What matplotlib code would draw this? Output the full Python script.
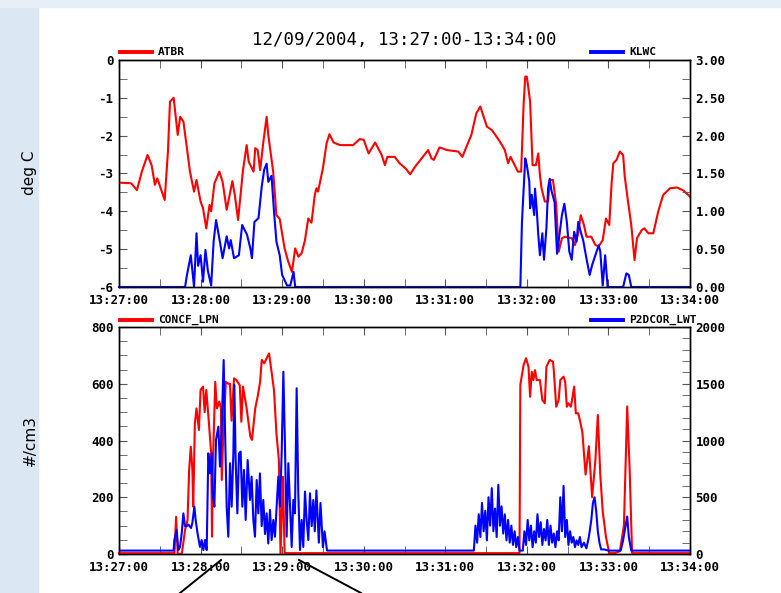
import matplotlib
matplotlib.use("Agg")
import matplotlib.pyplot as plt
from matplotlib.lines import Line2D
from matplotlib.patches import Rectangle
from matplotlib.ticker import MultipleLocator, FixedLocator, FixedFormatter

# ---------------- data (minutes after 13:27:00) ----------------
title = "12/09/2004, 13:27:00-13:34:00"
time_labels = ["13:27:00", "13:28:00", "13:29:00", "13:30:00", "13:31:00", "13:32:00", "13:33:00", "13:34:00"]

atbr_t = [0, 0.15, 0.22, 0.28, 0.35, 0.40, 0.44, 0.47, 0.56, 0.60, 0.625, 0.67, 0.72, 0.75, 0.79, 0.83,
          0.87, 0.92, 0.95, 1.0, 1.03, 1.07, 1.11, 1.13, 1.17, 1.23, 1.27, 1.32, 1.39, 1.42, 1.46, 1.52,
          1.565, 1.59, 1.65, 1.67, 1.70, 1.73, 1.77, 1.81, 1.83, 1.89, 1.93, 1.97, 2.03, 2.075, 2.12, 2.16,
          2.20, 2.24, 2.28, 2.32, 2.36, 2.40, 2.42, 2.44, 2.50, 2.545, 2.58, 2.63, 2.71, 2.87, 2.95, 3.0,
          3.06, 3.14, 3.22, 3.26, 3.29, 3.38, 3.44, 3.51, 3.57, 3.63, 3.79, 3.83, 3.86, 3.93, 4.02, 4.16,
          4.21, 4.26, 4.32, 4.38, 4.43, 4.47, 4.51, 4.57, 4.63, 4.67, 4.73, 4.77, 4.80, 4.85, 4.89, 4.93,
          4.96, 4.98, 5.0, 5.04, 5.07, 5.11, 5.14, 5.16, 5.18, 5.22, 5.26, 5.28, 5.32, 5.36, 5.39, 5.43,
          5.47, 5.55, 5.59, 5.63, 5.66, 5.70, 5.73, 5.79, 5.84, 5.88, 5.93, 5.97, 6.01, 6.04, 6.06, 6.10,
          6.14, 6.18, 6.20, 6.24, 6.28, 6.32, 6.35, 6.41, 6.44, 6.49, 6.55, 6.61, 6.67, 6.755, 6.84, 6.92, 7.0]
atbr_v = [-3.24, -3.26, -3.44, -2.95, -2.51, -2.78, -3.3, -3.13, -3.70, -2.42, -1.10, -1.0, -1.98, -1.5, -1.63, -2.29,
          -2.95, -3.48, -3.17, -3.74, -3.92, -4.45, -3.83, -4.0, -3.26, -2.95, -3.22, -3.96, -3.2, -3.57, -4.23, -2.91,
          -2.25, -2.69, -2.95, -2.33, -2.38, -2.91, -2.16, -1.50, -1.98, -2.95, -4.1, -4.2, -4.98, -5.33, -5.6, -4.98,
          -5.2, -5.1, -4.76, -4.19, -4.3, -3.57, -3.39, -3.48, -2.86, -2.20, -1.96, -2.18, -2.25, -2.25, -2.09, -2.11,
          -2.47, -2.18, -2.51, -2.78, -2.56, -2.56, -2.73, -2.86, -3.02, -2.82, -2.38, -2.6, -2.64, -2.31, -2.38, -2.42,
          -2.56, -2.29, -1.98, -1.41, -1.23, -1.5, -1.76, -1.85, -2.03, -2.16, -2.38, -2.73, -2.56, -2.78, -2.95, -2.95,
          -1.19, -0.44, -0.44, -1.10, -2.78, -2.78, -2.47, -3.04, -3.39, -3.74, -3.74, -3.17, -3.17, -3.83, -5.07, -4.71,
          -4.67, -4.71, -4.89, -4.58, -4.10, -4.36, -4.67, -4.67, -4.89, -4.93, -4.76, -4.19, -4.36, -3.22, -2.73, -2.64,
          -2.42, -2.51, -3.08, -3.74, -4.36, -5.29, -4.71, -4.49, -4.45, -4.58, -4.58, -4.01, -3.57, -3.39, -3.37, -3.45, -3.61]

klwc_t = [0, 0.81, 0.83, 0.88, 0.92, 0.95, 0.97, 1.0, 1.03, 1.06, 1.09, 1.13, 1.16, 1.19, 1.24, 1.27, 1.32, 1.35,
          1.37, 1.41, 1.47, 1.51, 1.57, 1.61, 1.63, 1.66, 1.71, 1.75, 1.78, 1.81, 1.83, 1.87, 1.90, 1.93, 1.97, 2.0,
          2.06, 2.10, 2.14, 2.16, 4.92, 4.94, 4.98, 5.0, 5.03, 5.04, 5.06, 5.09, 5.10, 5.12, 5.14, 5.16, 5.19, 5.21,
          5.24, 5.26, 5.28, 5.30, 5.34, 5.37, 5.40, 5.43, 5.46, 5.49, 5.52, 5.55, 5.58, 5.61, 5.63, 5.66, 5.69, 5.73,
          5.77, 5.80, 5.84, 5.88, 5.90, 5.93, 5.96, 5.99, 6.18, 6.22, 6.25, 6.28, 7.0]
klwc_v = [0, 0, 0.14, 0.42, 0, 0.71, 0.28, 0.42, 0.07, 0.49, 0.21, 0.02, 0.6, 0.885, 0.58, 0.38, 0.67, 0.51,
          0.62, 0.38, 0.42, 0.82, 0.69, 0.51, 0.38, 0.86, 0.91, 1.33, 1.55, 1.63, 1.39, 1.47, 1.0, 0.6, 0.42, 0.16,
          0.02, 0.02, 0.20, 0, 0, 0.86, 1.70, 1.61, 1.39, 1.04, 1.22, 0.95, 1.30, 1.04, 0.69, 0.42, 0.71, 0.36,
          0.78, 1.30, 1.43, 1.28, 1.12, 0.44, 0.69, 0.95, 1.1, 0.86, 0.47, 0.36, 0.73, 0.60, 0.86, 0.73, 0.62, 0.38,
          0.16, 0.29, 0.42, 0.55, 0.47, 0.02, 0.42, 0, 0, 0.18, 0.16, 0, 0]

concf_t = [0, 0.68, 0.70, 0.72, 0.77, 0.81, 0.84, 0.86, 0.88, 0.90, 0.91, 0.93, 0.95, 0.98, 1.0, 1.03, 1.05,
           1.07, 1.10, 1.13, 1.14, 1.15, 1.18, 1.20, 1.23, 1.25, 1.26, 1.28, 1.31, 1.34, 1.36, 1.38, 1.41, 1.44,
           1.48, 1.50, 1.52, 1.565, 1.61, 1.63, 1.67, 1.70, 1.73, 1.75, 1.78, 1.81, 1.84, 1.87, 1.90, 1.93, 1.96,
           1.98, 2.01, 2.03, 4.91, 4.92, 4.96, 4.99, 5.02, 5.04, 5.06, 5.08, 5.10, 5.12, 5.16, 5.19, 5.22, 5.24,
           5.28, 5.32, 5.33, 5.36, 5.39, 5.41, 5.45, 5.47, 5.49, 5.51, 5.54, 5.56, 5.58, 5.60, 5.63, 5.65, 5.68,
           5.72, 5.76, 5.80, 5.84, 5.87, 5.90, 5.93, 5.97, 6.01, 6.08, 6.14, 6.19, 6.23, 6.26, 6.29, 7.0]
concf_v = [3, 3, 131, 0, 0, 85, 120, 296, 378, 296, 167, 460, 513, 437, 578, 590, 500,
           578, 470, 355, 61, 308, 607, 513, 537, 513, 261, 437, 607, 600, 600, 470, 619, 613,
           595, 466, 590, 513, 414, 402, 513, 555, 607, 684, 672, 690, 707, 643, 578, 425, 331,
           0, 272, 3, 3, 596, 666, 690, 660, 554, 642, 613, 648, 613, 613, 543, 531, 660,
           684, 678, 648, 519, 543, 613, 625, 607, 519, 531, 519, 554, 590, 496, 496, 472, 430,
           280, 380, 200, 330, 490, 280, 150, 60, 3, 3, 10, 100, 520, 300, 3, 3]

p2d_t = [0, 0.67, 0.678, 0.707, 0.727, 0.748, 0.768, 0.789, 0.809, 0.830, 0.850, 0.883, 0.899, 0.924, 0.940, 0.964,
         0.993, 1.013, 1.034, 1.054, 1.075, 1.095, 1.116, 1.136, 1.148, 1.169, 1.189, 1.218, 1.238, 1.258, 1.283,
         1.299, 1.320, 1.340, 1.361, 1.381, 1.402, 1.414, 1.430, 1.451, 1.471, 1.491, 1.512, 1.532, 1.553, 1.577,
         1.606, 1.626, 1.647, 1.667, 1.688, 1.708, 1.728, 1.749, 1.769, 1.790, 1.810, 1.830, 1.851, 1.871, 1.892,
         1.912, 1.933, 1.953, 1.974, 1.994, 2.015, 2.035, 2.055, 2.076, 2.096, 2.117, 2.137, 2.157, 2.178, 2.198,
         2.219, 2.239, 2.259, 2.280, 2.300, 2.321, 2.341, 2.362, 2.382, 2.40, 2.42, 2.45, 2.47, 2.50, 2.52, 2.55,
         4.35, 4.37, 4.39, 4.41, 4.43, 4.45, 4.47, 4.49, 4.51, 4.53, 4.55, 4.57, 4.59, 4.61, 4.63, 4.65, 4.67,
         4.69, 4.71, 4.73, 4.75, 4.77, 4.79, 4.81, 4.83, 4.85, 4.87, 4.89, 4.91, 4.95, 4.97, 4.99, 5.01, 5.03,
         5.05, 5.07, 5.09, 5.11, 5.13, 5.15, 5.17, 5.19, 5.21, 5.23, 5.25, 5.27, 5.29, 5.31, 5.33, 5.35, 5.37,
         5.39, 5.41, 5.43, 5.45, 5.47, 5.49, 5.51, 5.53, 5.55, 5.57, 5.59, 5.61, 5.63, 5.65, 5.67, 5.70, 5.73,
         5.76, 5.79, 5.81, 5.83, 5.85, 5.87, 5.89, 5.91, 5.95, 6.0, 6.15, 6.18, 6.21, 6.23, 6.25, 6.28, 7.0]
p2d_v = [30, 30, 123, 211, 35, 62, 176, 358, 246, 246, 260, 229, 273, 417, 300, 176,
         62, 123, 35, 123, 35, 887, 710, 887, 535, 417, 1004, 1122, 770, 1092, 1709,
         1122, 417, 152, 800, 417, 887, 1489, 828, 358, 887, 902, 417, 740, 300, 828,
         476, 682, 300, 152, 652, 358, 710, 246, 476, 176, 358, 93, 388, 123, 300,
         152, 417, 682, 417, 887, 1606, 946, 152, 800, 447, 62, 476, 358, 1460, 535,
         35, 300, 62, 550, 300, 123, 535, 246, 476, 200, 560, 100, 450, 60, 200, 30,
         30, 250, 100, 350, 150, 450, 200, 380, 120, 500, 250, 580, 200, 400, 150, 610, 250,
         420, 180, 350, 120, 300, 100, 250, 80, 200, 60, 150, 30, 30, 200, 80, 300, 120,
         250, 60, 200, 100, 350, 150, 280, 80, 220, 120, 300, 80, 250, 100, 180, 60, 200,
         120, 500, 200, 600, 150, 300, 80, 200, 100, 150, 60, 120, 80, 150, 60, 100, 50,
         150, 300, 450, 500, 380, 200, 100, 40, 40, 30, 30, 120, 250, 330, 150, 30, 30]

# ---------------- figure ----------------
W, H = 781, 593
fig = plt.figure(figsize=(W / 100, H / 100), dpi=100, facecolor="white")

def fx(px):
    return px / W

def fy(py):
    return 1 - py / H

# light blue frame fragments
fig.patches.append(Rectangle((0, 0), fx(38), 1, transform=fig.transFigure, color="#dbe7f3", zorder=-5))
fig.patches.append(Rectangle((0, fy(7)), 1, 7 / H, transform=fig.transFigure, color="#e6eef7", zorder=-5))

mono = "DejaVu Sans Mono"
tick_font = dict(family=mono, weight="bold", size=9)

RED = "#ff0000"
BLUE = "#0000ff"

left, width = fx(119), fx(690) - fx(119)
ax1 = fig.add_axes([left, fy(287), width, 227 / H])
ax3 = fig.add_axes([left, fy(554), width, 227 / H])
ax2 = ax1.twinx()
ax4 = ax3.twinx()

ax1.plot(atbr_t, atbr_v, color=RED, lw=1.5, zorder=3)
ax2.plot(klwc_t, klwc_v, color=BLUE, lw=1.5, clip_on=False, zorder=2)
ax3.plot(concf_t, concf_v, color=RED, lw=1.5, clip_on=False, zorder=3)
ax4.plot(p2d_t, p2d_v, color=BLUE, lw=1.5, zorder=2)

ax1.set_ylim(-6, 0)
ax2.set_ylim(0, 3)
ax3.set_ylim(0, 800)
ax4.set_ylim(0, 2000)

for ax in (ax1, ax2, ax3, ax4):
    ax.set_xlim(0, 7)
    for s in ax.spines.values():
        s.set_color("black")
        s.set_linewidth(1.0)

for ax in (ax1, ax3):
    ax.xaxis.set_major_locator(FixedLocator(list(range(len(time_labels)))))
    ax.xaxis.set_major_formatter(FixedFormatter(time_labels))
    ax.xaxis.set_minor_locator(MultipleLocator(0.5))
    ax.tick_params(axis="x", which="both", direction="in", top=True, bottom=True, length=6,
                   color="#555555", pad=5)
    ax.tick_params(axis="y", which="both", direction="in", left=True, right=False, length=6,
                   color="#555555", pad=4)

for ax in (ax2, ax4):
    ax.tick_params(axis="y", which="both", direction="in", right=True, left=False, length=6,
                   color="#555555", pad=4)
    ax.tick_params(axis="x", which="both", bottom=False, top=False, labelbottom=False)

ax1.yaxis.set_major_locator(MultipleLocator(1))
ax1.yaxis.set_minor_locator(MultipleLocator(0.5))
ax1.yaxis.set_major_formatter(matplotlib.ticker.FuncFormatter(lambda v, p: "%d" % round(v)))
ax2.yaxis.set_major_locator(MultipleLocator(0.5))
ax2.yaxis.set_minor_locator(MultipleLocator(0.25))
ax2.yaxis.set_major_formatter(matplotlib.ticker.FormatStrFormatter("%.2f"))
ax3.yaxis.set_major_locator(MultipleLocator(200))
ax3.yaxis.set_minor_locator(MultipleLocator(50))
ax4.yaxis.set_major_locator(MultipleLocator(500))
ax4.yaxis.set_minor_locator(MultipleLocator(100))

for ax in (ax1, ax2, ax3, ax4):
    for lab in ax.get_xticklabels() + ax.get_yticklabels():
        lab.set_fontproperties(tick_font)

# title
fig.text(fx(404.5), fy(40), title, ha="center", va="center", family=mono, fontsize=12.5)

# y-axis labels
fig.text(fx(30), fy(173), "deg C", rotation=90, ha="center", va="center",
         family="DejaVu Sans", fontsize=11)
fig.text(fx(30), fy(440), "#/cm3", rotation=90, ha="center", va="center",
         family="DejaVu Sans", fontsize=11)

# legends
def legend_entry(x0, y, color, text):
    fig.add_artist(Line2D([fx(x0), fx(x0 + 32)], [fy(y), fy(y)], color=color, lw=2.8,
                          transform=fig.transFigure))
    fig.text(fx(x0 + 38), fy(y), text, ha="left", va="center", family=mono,
             weight="bold", fontsize=8)

legend_entry(120, 52, RED, "ATBR")
legend_entry(591, 52, BLUE, "KLWC")
legend_entry(120, 320, RED, "CONCF_LPN")
legend_entry(591, 320, BLUE, "P2DCOR_LWT")

# annotation lines at the bottom
fig.add_artist(Line2D([fx(180), fx(221)], [fy(593), fy(560)], color="black", lw=1.4,
                      transform=fig.transFigure))
fig.add_artist(Line2D([fx(299), fx(361)], [fy(560), fy(593)], color="black", lw=1.4,
                      transform=fig.transFigure))

fig.savefig("out.png", dpi=100, facecolor=fig.get_facecolor())
